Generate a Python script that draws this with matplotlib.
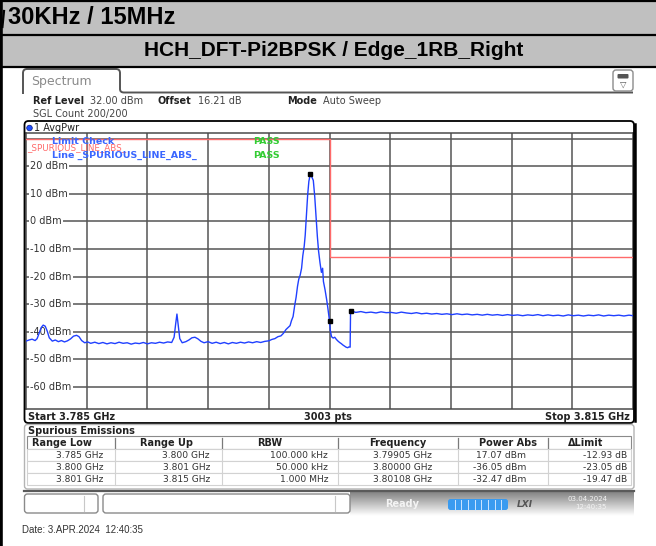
import numpy as np
import matplotlib.pyplot as plt
from matplotlib.patches import FancyBboxPatch, Rectangle, Circle, PathPatch
from matplotlib.path import Path

plt.rcParams['font.family'] = ['DejaVu Sans']

# ---- texts of the page ----
row1_text = '30KHz / 15MHz'
row2_text = 'HCH_DFT-Pi2BPSK / Edge_1RB_Right'
date_text = 'Date: 3.APR.2024  12:40:35'

# ---- sweep settings (MHz / dBm) ----
f_start, f_stop = 3785.0, 3815.0
ref_level, y_low = 32.0, -68.0
level_labels = [20, 10, 0, -10, -20, -30, -40, -50, -60]

# ---- trace ----
seg1_mhz = [3785.00, 3785.15, 3785.30, 3785.45, 3785.55, 3785.65, 3785.75, 3785.85, 3785.95,
            3786.05, 3786.15, 3786.30, 3786.45, 3786.60, 3786.75, 3786.90, 3787.05, 3787.20,
            3787.35, 3787.50, 3787.62, 3787.75, 3787.90, 3788.05, 3788.20, 3788.40, 3788.60,
            3788.80, 3789.00, 3789.20, 3789.40, 3789.60, 3789.80, 3790.00, 3790.20, 3790.40,
            3790.60, 3790.80, 3791.00, 3791.20, 3791.40, 3791.60, 3791.80, 3792.00, 3792.20,
            3792.32, 3792.40, 3792.46, 3792.52, 3792.60, 3792.72, 3792.90, 3793.05, 3793.20,
            3793.35, 3793.50, 3793.65, 3793.80, 3794.00, 3794.20, 3794.40, 3794.60, 3794.80,
            3795.00, 3795.20, 3795.40, 3795.60, 3795.80, 3796.00, 3796.20, 3796.40, 3796.60,
            3796.80, 3797.00, 3797.15, 3797.30, 3797.45, 3797.60, 3797.72, 3797.85, 3797.95,
            3798.05, 3798.12, 3798.20, 3798.28, 3798.35, 3798.42, 3798.48, 3798.55, 3798.62,
            3798.68, 3798.75, 3798.80, 3798.86, 3798.92, 3798.98, 3799.05, 3799.12, 3799.20,
            3799.27, 3799.34, 3799.40, 3799.46, 3799.53, 3799.60, 3799.66, 3799.70, 3799.78,
            3799.86, 3799.92, 3799.97]
seg1_dbm = [-43.4, -43.0, -42.7, -43.2, -42.5, -40.5, -38.5, -37.6, -38.0,
            -39.8, -42.2, -43.4, -43.0, -43.6, -43.2, -43.7, -43.3, -42.6,
            -41.6, -41.3, -41.8, -43.2, -44.0, -43.7, -44.2, -43.8, -44.3,
            -43.9, -44.4, -44.0, -44.3, -43.8, -44.2, -44.0, -44.5, -44.1,
            -44.3, -43.9, -44.4, -44.0, -44.2, -43.8, -44.1, -43.7, -43.9,
            -42.0, -37.0, -33.6, -37.5, -42.5, -44.0, -43.6, -43.0, -42.2,
            -42.0, -42.6, -43.5, -44.0, -43.6, -44.2, -43.8, -44.3, -43.9,
            -44.4, -43.9, -44.2, -43.8, -44.1, -43.7, -44.0, -43.6, -43.9,
            -43.5, -43.3, -42.8, -42.5, -41.8, -41.5, -40.6, -39.2, -38.5,
            -37.8, -36.0, -34.5, -30.5, -27.5, -23.5, -21.0, -19.5, -17.0,
            -12.5, -9.0, -5.0, 2.0, 9.5, 14.5, 17.07, 16.2, 14.8,
            9.0, 1.0, -5.5, -10.8, -15.0, -18.5, -17.0, -21.8, -24.8,
            -28.4, -31.5, -34.5]
seg2_mhz = [3800.00, 3800.04, 3800.10, 3800.18, 3800.26, 3800.34, 3800.42, 3800.50,
            3800.58, 3800.66, 3800.74, 3800.82, 3800.90, 3800.96, 3801.02]
seg2_dbm = [-36.05, -39.5, -41.8, -42.3, -42.0, -42.8, -43.4, -43.9,
            -44.3, -44.8, -45.2, -45.6, -45.8, -45.5, -45.6]
seg3_mhz = [3801.04, 3801.08, 3801.30, 3801.55, 3801.80, 3802.05, 3802.30, 3802.55, 3802.80,
            3803.05, 3803.30, 3803.55, 3803.80, 3804.05, 3804.30, 3804.55, 3804.80, 3805.05,
            3805.30, 3805.55, 3805.80, 3806.05, 3806.30, 3806.55, 3806.80, 3807.05, 3807.30,
            3807.55, 3807.80, 3808.05, 3808.30, 3808.55, 3808.80, 3809.05, 3809.30, 3809.55,
            3809.80, 3810.05, 3810.30, 3810.55, 3810.80, 3811.05, 3811.30, 3811.55, 3811.80,
            3812.05, 3812.30, 3812.55, 3812.80, 3813.05, 3813.30, 3813.55, 3813.80, 3814.05,
            3814.30, 3814.55, 3814.80, 3815.00]
seg3_dbm = [-32.9, -32.47, -33.0, -32.7, -33.1, -32.9, -33.2, -32.8, -33.1,
            -33.0, -33.3, -32.9, -33.2, -33.4, -33.1, -33.5, -33.3, -33.6,
            -33.4, -33.7, -33.5, -33.8, -33.5, -33.8, -33.6, -33.9, -33.7,
            -34.0, -33.7, -34.0, -33.8, -34.1, -33.8, -34.1, -33.9, -34.2,
            -33.9, -34.1, -33.8, -34.2, -33.9, -34.2, -34.0, -34.3, -33.9,
            -34.2, -34.0, -34.3, -34.0, -34.2, -33.9, -34.3, -34.0, -34.2,
            -34.0, -34.3, -34.0, -34.2]

limit_mhz = [3785.0, 3800.0, 3800.0, 3815.0]
limit_dbm = [30.0, 30.0, -13.0, -13.0]

marker_mhz = [3799.05, 3800.00, 3801.08]
marker_dbm = [17.07, -36.05, -32.47]

# ---- spurious emissions table ----
tbl_header = ['Range Low', 'Range Up', 'RBW', 'Frequency', 'Power Abs', '\u0394Limit']
range_low = ['3.785 GHz', '3.800 GHz', '3.801 GHz']
range_up = ['3.800 GHz', '3.801 GHz', '3.815 GHz']
rbw = ['100.000 kHz', '50.000 kHz', '1.000 MHz']
frequency = ['3.79905 GHz', '3.80000 GHz', '3.80108 GHz']
power_abs = ['17.07 dBm', '-36.05 dBm', '-32.47 dBm']
delta_limit = ['-12.93 dB', '-23.05 dB', '-19.47 dB']

W, H = 656, 546
fig = plt.figure(figsize=(W / 100, H / 100), dpi=100)

# spectrum diagram
ax = fig.add_axes([26 / W, 1 - 409 / H, (633 - 26) / W, (409 - 133) / H], zorder=1)
ax.set_xlim(f_start, f_stop)
ax.set_ylim(y_low, ref_level)
ax.set_xticks([])
ax.set_yticks([])
for s in ax.spines.values():
    s.set_color('#4a4a4a')
    s.set_linewidth(1.1)
for f in np.arange(f_start + 3, f_stop, 3):
    ax.axvline(f, color='#555555', lw=1.1, zorder=1)
for lv in range(30, -61, -10):
    ax.axhline(lv, color='#555555', lw=1.1, zorder=1)
for lv in level_labels:
    ax.text(0.0066, lv, f'{lv} dBm', transform=ax.get_yaxis_transform(), va='center',
            ha='left', fontsize=7, color='#333333', zorder=2,
            bbox=dict(fc='white', ec='none', pad=1.0))
ax.plot(limit_mhz, limit_dbm, color='#ff6a6a', lw=1.0, zorder=3)
ax.plot(seg1_mhz + seg2_mhz + seg3_mhz, seg1_dbm + seg2_dbm + seg3_dbm,
        color='#2040ff', lw=1.0, zorder=4)
ax.plot(marker_mhz, marker_dbm, 's', color='black', ms=2.8, zorder=5)

# pixel overlay for everything around the diagram
ov = fig.add_axes([0, 0, 1, 1], zorder=5)
ov.set_xlim(0, W)
ov.set_ylim(H, 0)
ov.axis('off')


def T(x, y, s, size=7, **kw):
    kw.setdefault('va', 'center')
    kw.setdefault('ha', 'left')
    kw.setdefault('color', '#222222')
    ov.text(x, y, s, fontsize=size, **kw)


def RR(x0, y0, x1, y1, r=3, **kw):
    ov.add_patch(FancyBboxPatch((x0, y0), x1 - x0, y1 - y0,
                                boxstyle=f'round,pad=0,rounding_size={r}', **kw))


# header rows of the report table
ov.add_patch(Rectangle((0, 0), W, 35, fc='#c0c0c0', ec='none'))
ov.add_patch(Rectangle((0, 35), W, 31, fc='#c0c0c0', ec='none'))
for yy in (1, 35, 66.5):
    ov.plot([0, W], [yy, yy], color='black', lw=1.6)
ov.plot([1.2, 1.2], [0, H], color='black', lw=2.6)
ov.plot([2.4, 4.0], [27, 11], color='black', lw=1.6)   # clipped slash of the cell text
T(8, 18, row1_text, size=17, weight='bold', family='Liberation Sans', color='black')
T(334, 51, row2_text, size=15, weight='bold', family='Liberation Sans', color='black', ha='center')

# "Spectrum" tab
verts = [(23, 94), (23, 73), (23, 69), (27, 69), (116, 69), (120, 69), (120, 73),
         (120, 89), (120, 92.5), (124, 92.5), (633, 92.5)]
codes = [Path.MOVETO, Path.LINETO, Path.CURVE3, Path.CURVE3, Path.LINETO, Path.CURVE3,
         Path.CURVE3, Path.LINETO, Path.CURVE3, Path.CURVE3, Path.LINETO]
ov.add_patch(PathPatch(Path(verts, codes), fc='none', ec='#555555', lw=1.4))
T(31, 81, 'Spectrum', size=9, color='#8a8a8a')
RR(613, 70, 633, 91, r=3, fc='white', ec='#8c8c8c', lw=1)
RR(617.5, 74, 628.5, 78.5, r=1, fc='#555555', ec='none')
T(623, 84.5, '\u25bd', size=6, color='#555555', ha='center')

# settings line
T(33, 101, 'Ref Level', weight='bold')
T(90, 101, '32.00 dBm', color='#444444')
T(158, 101, 'Offset', weight='bold')
T(198, 101, '16.21 dB', color='#444444')
T(287, 101, 'Mode', weight='bold')
T(323, 101, 'Auto Sweep', color='#444444')
T(33, 114, 'SGL Count 200/200', color='#444444')

# diagram frame and strips
RR(24.5, 121, 634, 423, r=4, fc='none', ec='black', lw=1.3)
ov.plot([635.4, 635.4], [124, 421], color='black', lw=1.8)
ov.add_patch(Circle((29.5, 128), 2.8, fc='#1f4fff', ec='#0a1a80', lw=0.5))
T(34, 128, '1 AvgPwr')
T(28, 416.5, 'Start 3.785 GHz', weight='bold')
T(328, 416.5, '3003 pts', weight='bold', ha='center')
T(630, 416.5, 'Stop 3.815 GHz', weight='bold', ha='right')

# limit check annotation (overlapping, as on the screen)
T(52, 142, 'Limit Check', size=6.8, weight='bold', color='#3a66ff')
T(27, 147.5, '_SPURIOUS_LINE_ABS_', size=6.3, color='#ff6a6a')
T(52, 155, 'Line _SPURIOUS_LINE_ABS_', size=6.8, weight='bold', color='#3a66ff')
T(253, 142, 'PASS', size=6.8, weight='bold', color='#33cc33')
T(253, 155, 'PASS', size=6.8, weight='bold', color='#33cc33')

# spurious emissions table
RR(24.5, 424.5, 634, 489, r=3, fc='white', ec='#b4b4b4', lw=1)
T(28, 431, 'Spurious Emissions', weight='bold')
col_edges = [27, 115, 222, 338, 458, 548, 631]
head_x = [62, 166, 270, 398, 508, 586]
value_right = [103, 210, 328, 432, 526, 627]
ov.add_patch(Rectangle((27, 436), 604, 13, fc='white', ec='#8a8a8a', lw=0.8))
for xe in col_edges[1:-1]:
    ov.plot([xe, xe], [437.5, 447.5], color='#7a7a7a', lw=0.9)
for name, hx in zip(tbl_header, head_x):
    T(hx, 442.5, name, weight='bold', ha='center')
columns = [range_low, range_up, rbw, frequency, power_abs, delta_limit]
for i in range(3):
    y0 = 449 + 12 * i
    ov.add_patch(Rectangle((27, y0), 604, 12, fc='white', ec='#d2d2d2', lw=0.8))
    for xe in col_edges[1:-1]:
        ov.plot([xe, xe], [y0, y0 + 12], color='#d2d2d2', lw=0.8)
    for col, vx in zip(columns, value_right):
        T(vx, y0 + 6.5, col[i], size=6.6, color='#333333', ha='right')

# status bar
ov.plot([24, 634], [490.5, 490.5], color='#5a5a5a', lw=1.6)
ov.imshow(np.linspace(0.5, 1.0, 40).reshape(-1, 1), cmap='gray', vmin=0, vmax=1,
          extent=[350, 634, 516, 491.5], aspect='auto', zorder=1)
RR(24.5, 494, 98, 513, r=3, fc='white', ec='#8a8a8a', lw=1, zorder=2)
ov.plot([84, 84], [496, 511], color='#c8c8c8', lw=0.8, zorder=3)
RR(103, 494, 350, 513, r=3, fc='white', ec='#8a8a8a', lw=1, zorder=2)
ov.plot([335, 335], [496, 511], color='#c8c8c8', lw=0.8, zorder=3)
T(385, 504, 'Ready', weight='bold', color='#f4f4f4', zorder=3)
RR(448, 499, 508, 510, r=2.5, fc='#3a9bf0', ec='none', zorder=3)
for xs in np.linspace(448, 508, 10)[1:-1]:
    ov.plot([xs, xs], [499.5, 509.5], color='#cfe6ff', lw=0.7, zorder=4)
T(517, 504.5, 'LXI', size=6.5, weight='bold', style='italic', color='#555555', zorder=3)
T(568, 499, '03.04.2024', size=5, color='#f4f4f4', zorder=3)
T(575, 507, '12:40:35', size=5, color='#f4f4f4', zorder=3)
ov.set_xlim(0, W)
ov.set_ylim(H, 0)

T(22, 530, date_text, size=7, family='Liberation Sans', color='#333333')

fig.savefig('out.png', dpi=100)
